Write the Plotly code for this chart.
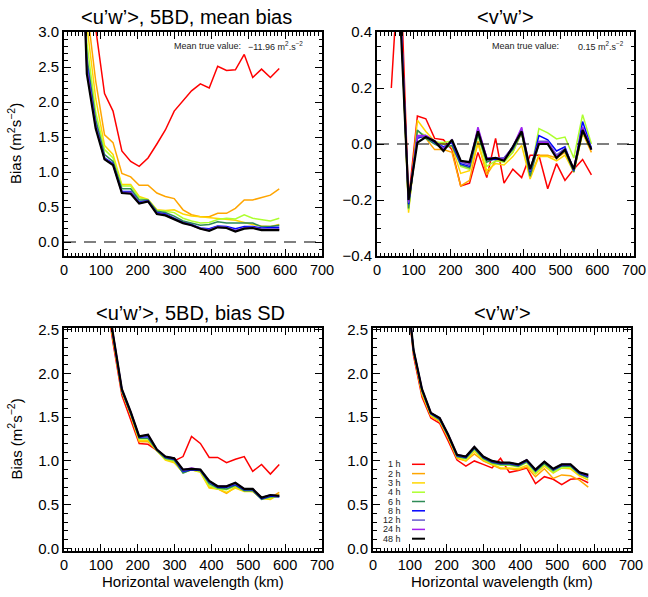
import plotly.graph_objects as go

# ---------------- data ----------------
wavelength = [39, 62, 86, 110, 133, 157, 181, 204, 228, 252, 275, 299,
              323, 346, 370, 394, 417, 441, 465, 489, 512, 536, 560, 584]

run_labels = ["1 h", "2 h", "3 h", "4 h", "6 h", "8 h", "12 h", "24 h", "48 h"]
run_colors = ["#FF0000", "#FFA500", "#FFD700", "#ADFF2F", "#2E8B57",
              "#0000FF", "#6A5ACD", "#A020F0", "#000000"]

# <u'w'> mean bias (top-left), one list per run
uw_mean = [
    [9.0, 6.0, 3.05, 2.12, 1.87, 1.30, 1.15, 1.08, 1.20, 1.40, 1.60, 1.87, 2.02, 2.16, 2.26, 2.20, 2.51, 2.45, 2.46, 2.68, 2.35, 2.47, 2.35, 2.48],
    [7.0, 3.35, 2.30, 1.53, 1.42, 0.98, 0.93, 0.81, 0.81, 0.70, 0.65, 0.62, 0.46, 0.39, 0.36, 0.36, 0.41, 0.41, 0.48, 0.60, 0.60, 0.63, 0.67, 0.76],
    [6.0, 3.10, 2.05, 1.38, 1.25, 0.82, 0.82, 0.65, 0.61, 0.46, 0.45, 0.46, 0.40, 0.37, 0.36, 0.35, 0.33, 0.33, 0.31, 0.28, 0.25, 0.23, 0.22, 0.25],
    [5.6, 2.85, 1.85, 1.32, 1.20, 0.80, 0.80, 0.63, 0.60, 0.45, 0.44, 0.42, 0.34, 0.30, 0.27, 0.28, 0.32, 0.34, 0.33, 0.39, 0.34, 0.32, 0.30, 0.34],
    [5.5, 2.65, 1.75, 1.25, 1.15, 0.76, 0.76, 0.60, 0.60, 0.44, 0.42, 0.37, 0.30, 0.27, 0.24, 0.25, 0.29, 0.27, 0.27, 0.28, 0.27, 0.22, 0.22, 0.24],
    [5.6, 2.55, 1.68, 1.20, 1.12, 0.72, 0.72, 0.57, 0.59, 0.42, 0.40, 0.34, 0.28, 0.25, 0.20, 0.19, 0.23, 0.22, 0.19, 0.22, 0.22, 0.20, 0.20, 0.21],
    [5.7, 2.50, 1.66, 1.19, 1.11, 0.71, 0.71, 0.56, 0.585, 0.41, 0.39, 0.33, 0.275, 0.245, 0.195, 0.175, 0.22, 0.21, 0.17, 0.205, 0.21, 0.185, 0.185, 0.19],
    [5.8, 2.45, 1.64, 1.185, 1.105, 0.705, 0.70, 0.555, 0.58, 0.405, 0.385, 0.325, 0.27, 0.24, 0.19, 0.165, 0.215, 0.205, 0.16, 0.195, 0.205, 0.175, 0.175, 0.18],
    [5.9, 2.40, 1.62, 1.18, 1.10, 0.70, 0.69, 0.55, 0.58, 0.40, 0.38, 0.32, 0.27, 0.24, 0.19, 0.16, 0.21, 0.20, 0.15, 0.19, 0.20, 0.17, 0.17, 0.17],
]

# <v'w'> mean bias (top-right)
vw_mean = [
    [0.20, 0.70, -0.20, 0.10, 0.09, 0.02, 0.015, -0.02, -0.15, -0.14, -0.03, -0.12, 0.02, -0.14, -0.09, -0.12, -0.04, -0.04, -0.16, -0.07, -0.13, -0.09, -0.055, -0.11],
    [1.50, 0.55, -0.23, 0.03, 0.02, -0.02, -0.02, -0.03, -0.15, -0.13, 0.01, -0.11, -0.06, -0.06, -0.03, 0.04, -0.12, -0.04, -0.04, -0.05, -0.03, -0.10, 0.04, -0.03],
    [1.50, 0.55, -0.245, 0.085, 0.045, 0.01, 0.0, -0.01, -0.105, -0.095, 0.0, -0.095, -0.07, -0.075, -0.045, -0.005, -0.125, -0.045, -0.045, -0.06, -0.04, -0.10, 0.04, -0.02],
    [1.50, 0.55, -0.235, 0.045, 0.03, 0.005, 0.005, 0.01, -0.08, -0.09, 0.03, -0.08, -0.06, -0.065, -0.03, 0.045, -0.11, 0.055, 0.04, 0.018, 0.025, -0.05, 0.105, 0.0],
    [1.50, 0.55, -0.23, 0.05, 0.02, 0.0, -0.015, -0.005, -0.075, -0.085, 0.035, -0.065, -0.05, -0.055, -0.02, 0.04, -0.115, 0.0, 0.0, -0.04, -0.025, -0.10, 0.045, -0.015],
    [1.50, 0.55, -0.215, 0.02, 0.03, 0.005, -0.01, 0.005, -0.07, -0.08, 0.05, -0.055, -0.055, -0.05, -0.015, 0.05, -0.10, 0.03, 0.015, -0.025, -0.01, -0.095, 0.08, -0.015],
    [1.50, 0.55, -0.21, 0.025, 0.03, 0.01, -0.015, 0.01, -0.065, -0.075, 0.055, -0.05, -0.05, -0.05, -0.01, 0.055, -0.095, 0.01, 0.01, -0.04, -0.015, -0.09, 0.06, -0.02],
    [1.50, 0.55, -0.205, 0.03, 0.03, 0.01, -0.02, 0.015, -0.06, -0.07, 0.06, -0.05, -0.05, -0.055, -0.01, 0.06, -0.09, 0.005, 0.005, -0.045, -0.02, -0.09, 0.06, -0.02],
    [1.50, 0.50, -0.20, 0.005, 0.025, 0.01, -0.025, 0.015, -0.06, -0.065, 0.045, -0.055, -0.05, -0.06, -0.01, 0.045, -0.09, 0.0, 0.0, -0.05, -0.02, -0.09, 0.05, -0.02],
]

# <u'w'> bias SD (bottom-left)
uw_sd = [
    [6.0, 5.0, 4.0, 3.00, 2.35, 1.75, 1.47, 1.20, 1.19, 1.12, 1.03, 1.00, 1.05, 1.28, 1.20, 1.04, 1.04, 0.98, 1.02, 1.05, 0.88, 0.96, 0.85, 0.96],
    [6.0, 5.0, 4.0, 3.05, 2.40, 1.79, 1.52, 1.22, 1.22, 1.12, 1.02, 0.99, 0.87, 0.90, 0.88, 0.70, 0.68, 0.63, 0.70, 0.66, 0.65, 0.57, 0.58, 0.64],
    [6.0, 5.0, 4.0, 3.05, 2.40, 1.79, 1.53, 1.23, 1.23, 1.12, 1.01, 0.98, 0.87, 0.90, 0.87, 0.69, 0.68, 0.64, 0.69, 0.65, 0.65, 0.57, 0.56, 0.62],
    [6.0, 5.0, 4.0, 3.08, 2.42, 1.80, 1.54, 1.25, 1.25, 1.12, 1.02, 1.00, 0.87, 0.90, 0.88, 0.72, 0.68, 0.67, 0.71, 0.66, 0.66, 0.57, 0.58, 0.60],
    [6.0, 5.0, 4.0, 3.09, 2.43, 1.80, 1.54, 1.26, 1.26, 1.12, 1.03, 1.01, 0.86, 0.90, 0.89, 0.74, 0.69, 0.68, 0.72, 0.66, 0.66, 0.56, 0.59, 0.59],
    [6.0, 5.0, 4.0, 3.10, 2.44, 1.81, 1.55, 1.27, 1.28, 1.13, 1.04, 1.02, 0.88, 0.90, 0.89, 0.76, 0.70, 0.70, 0.73, 0.67, 0.67, 0.57, 0.60, 0.59],
    [6.0, 5.0, 4.0, 3.10, 2.45, 1.82, 1.56, 1.28, 1.29, 1.13, 1.05, 1.03, 0.89, 0.91, 0.90, 0.77, 0.71, 0.71, 0.74, 0.68, 0.68, 0.58, 0.61, 0.60],
    [6.0, 5.0, 4.0, 3.10, 2.45, 1.82, 1.56, 1.28, 1.30, 1.13, 1.05, 1.03, 0.90, 0.92, 0.90, 0.77, 0.71, 0.71, 0.75, 0.68, 0.68, 0.58, 0.61, 0.60],
    [6.0, 5.0, 4.0, 3.10, 2.45, 1.82, 1.56, 1.28, 1.30, 1.13, 1.05, 1.03, 0.90, 0.91, 0.90, 0.77, 0.71, 0.71, 0.75, 0.68, 0.68, 0.58, 0.61, 0.60],
]

# <v'w'> bias SD (bottom-right)
vw_sd = [
    [6.0, 4.5, 3.2, 2.20, 1.73, 1.49, 1.43, 1.23, 1.01, 0.94, 1.00, 0.96, 0.92, 1.03, 0.87, 0.89, 0.92, 0.74, 0.82, 0.79, 0.73, 0.79, 0.80, 0.75],
    [6.0, 4.5, 3.2, 2.24, 1.76, 1.51, 1.45, 1.26, 1.03, 1.00, 1.08, 1.00, 0.95, 0.91, 0.91, 0.90, 0.93, 0.82, 0.91, 0.80, 0.84, 0.83, 0.78, 0.70],
    [6.0, 4.5, 3.2, 2.25, 1.78, 1.52, 1.46, 1.27, 1.04, 1.00, 1.11, 1.01, 0.96, 0.92, 0.92, 0.91, 0.95, 0.85, 0.94, 0.86, 0.92, 0.91, 0.83, 0.78],
    [6.0, 4.5, 3.2, 2.25, 1.79, 1.53, 1.47, 1.28, 1.05, 1.02, 1.13, 1.02, 0.97, 0.95, 0.95, 0.93, 0.98, 0.86, 0.96, 0.87, 0.92, 0.93, 0.85, 0.80],
    [6.0, 4.5, 3.2, 2.26, 1.80, 1.54, 1.47, 1.29, 1.05, 1.03, 1.14, 1.03, 0.98, 0.96, 0.96, 0.94, 0.99, 0.88, 0.97, 0.89, 0.94, 0.94, 0.85, 0.81],
    [6.0, 4.5, 3.2, 2.26, 1.81, 1.54, 1.48, 1.29, 1.06, 1.04, 1.15, 1.04, 0.99, 0.97, 0.97, 0.95, 1.00, 0.89, 0.99, 0.90, 0.95, 0.95, 0.86, 0.82],
    [6.0, 4.5, 3.2, 2.27, 1.82, 1.55, 1.49, 1.30, 1.07, 1.05, 1.16, 1.05, 1.00, 0.98, 0.98, 0.96, 1.01, 0.90, 0.99, 0.91, 0.96, 0.96, 0.87, 0.83],
    [6.0, 4.5, 3.2, 2.27, 1.82, 1.55, 1.49, 1.30, 1.07, 1.05, 1.16, 1.05, 1.00, 0.98, 0.98, 0.96, 1.01, 0.90, 0.99, 0.91, 0.96, 0.96, 0.87, 0.83],
    [6.0, 4.5, 3.2, 2.27, 1.82, 1.55, 1.49, 1.30, 1.07, 1.05, 1.16, 1.05, 1.00, 0.98, 0.98, 0.96, 1.01, 0.90, 0.99, 0.91, 0.96, 0.96, 0.87, 0.84],
]

panel_titles = ["<u’w’>, 5BD, mean bias", "<v’w’>", "<u’w’>, 5BD, bias SD", "<v’w’>"]
mean_true_values = ["−11.96 m<sup>2</sup>.s<sup>−2</sup>", "0.15 m<sup>2</sup>.s<sup>−2</sup>"]
y_title = "Bias (m<sup>2</sup>s<sup>−2</sup>)"
x_title = "Horizontal wavelength (km)"

# ---------------- layout geometry (pixels) ----------------
W, H = 648, 597
FONT = "Liberation Sans, Arial, Helvetica, sans-serif"
# (left, right, top, bottom) in px
boxes = [(64, 322, 32, 256), (377, 634, 32, 256), (64, 322, 328, 551), (373, 631, 328, 551)]


def xdom(b):
    return [b[0] / W, b[1] / W]


def ydom(b):
    return [1 - b[3] / H, 1 - b[2] / H]


fig = go.Figure()
datasets = [uw_mean, vw_mean, uw_sd, vw_sd]
for i, data in enumerate(datasets):
    xa = "x" if i == 0 else f"x{i+1}"
    ya = "y" if i == 0 else f"y{i+1}"
    for lab, col, ys in zip(run_labels, run_colors, data):
        fig.add_trace(go.Scatter(
            x=wavelength, y=ys, mode="lines", name=lab,
            line=dict(color=col, width=2.2 if col == "#000000" else 1.5),
            xaxis=xa, yaxis=ya, showlegend=False, hoverinfo="skip"))

common = dict(showline=True, mirror="allticks", linecolor="black", linewidth=2,
              ticks="inside", ticklen=7, tickwidth=1.2, tickcolor="black",
              showgrid=False, zeroline=False, automargin=False,
              tickfont=dict(family=FONT, size=15, color="black"))

yranges = [[-0.2, 3.0], [-0.4, 0.4], [-0.03, 2.52], [-0.03, 2.52]]
ydticks = [0.5, 0.2, 0.5, 0.5]
yminor = [0.1, 0.05, 0.1, 0.1]

for i, b in enumerate(boxes):
    sx = "" if i == 0 else str(i + 1)
    fig.update_layout(**{
        f"xaxis{sx}": dict(common, domain=xdom(b), range=[0, 700], tick0=0, dtick=100,
                           anchor=f"y{sx}", tickfont=dict(family=FONT, size=14.5, color="black"),
                           minor=dict(ticks="inside", dtick=10, ticklen=3.5, tickwidth=1,
                                      tickcolor="black", showgrid=False)),
        f"yaxis{sx}": dict(common, domain=ydom(b), range=yranges[i], tick0=0,
                           dtick=ydticks[i], tickformat=".1f", anchor=f"x{sx}",
                           minor=dict(ticks="inside", dtick=yminor[i], ticklen=3.5,
                                      tickwidth=1, tickcolor="black", showgrid=False)),
    })

annotations = []
shapes = []
title_y = [17, 17, 313, 313]
title_x = [186, 505, 190, 502]
for i, b in enumerate(boxes):
    annotations.append(dict(text=panel_titles[i], xref="paper", yref="paper",
                            x=title_x[i] / W, y=1 - title_y[i] / H,
                            xanchor="center", yanchor="middle", showarrow=False,
                            font=dict(family=FONT, size=20, color="black")))

# y-axis titles (left panels)
for b in (boxes[0], boxes[2]):
    annotations.append(dict(text=y_title, xref="paper", yref="paper", x=15 / W,
                            y=1 - (b[2] + b[3]) / 2 / H, textangle=-90,
                            xanchor="center", yanchor="middle", showarrow=False,
                            font=dict(family=FONT, size=15, color="black")))
# x-axis titles (bottom panels)
for b in (boxes[2], boxes[3]):
    annotations.append(dict(text=x_title, xref="paper", yref="paper",
                            x=(b[0] + b[1]) / 2 / W, y=1 - 581 / H,
                            xanchor="center", yanchor="middle", showarrow=False,
                            font=dict(family=FONT, size=15, color="black")))

# mean true value notes
note_pos = [(172, 246), (490, 576)]
for (xl, xv), val in zip(note_pos, mean_true_values):
    annotations.append(dict(text="Mean true value:", xref="paper", yref="paper",
                            x=xl / W, y=1 - 46 / H, xanchor="left", yanchor="middle",
                            showarrow=False, font=dict(family=FONT, size=9, color="#222")))
    annotations.append(dict(text=val, xref="paper", yref="paper",
                            x=xv / W, y=1 - 46 / H, xanchor="left", yanchor="middle",
                            showarrow=False, font=dict(family=FONT, size=9, color="#222")))

# dashed zero lines in top panels
for sx in ("", "2"):
    shapes.append(dict(type="line", xref=f"x{sx} domain", yref=f"y{sx}", x0=0, x1=1,
                       y0=0, y1=0, line=dict(color="black", width=1.2, dash="12px,8px")))

# legend (bottom-right panel)
leg_top, leg_step = 464.3, 9.3
for j, (lab, col) in enumerate(zip(run_labels, run_colors)):
    yy = 1 - (leg_top + j * leg_step) / H
    annotations.append(dict(text=lab, xref="paper", yref="paper", x=403 / W, y=yy,
                            xanchor="right", yanchor="middle", showarrow=False,
                            font=dict(family=FONT, size=9, color="#222")))
    shapes.append(dict(type="line", xref="paper", yref="paper", x0=412 / W, x1=425 / W,
                       y0=yy, y1=yy, line=dict(color=col, width=2 if col == "#000000" else 1.5)))

fig.update_layout(width=W, height=H, margin=dict(l=0, r=0, t=0, b=0),
                  paper_bgcolor="white", plot_bgcolor="white",
                  annotations=annotations, shapes=shapes, showlegend=False,
                  font=dict(family=FONT, color="black"))

fig.write_html("out.html", config={"displayModeBar": False},
               post_script="document.body.style.margin='0px';document.body.style.overflow='hidden';")
